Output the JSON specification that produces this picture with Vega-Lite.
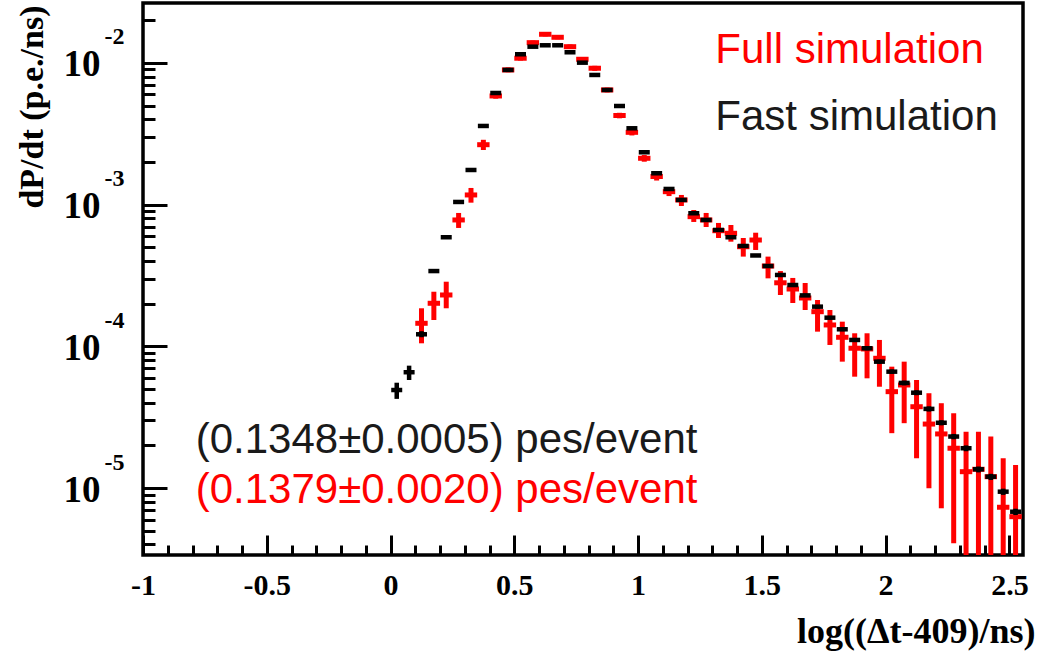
{
  "$schema": "https://vega.github.io/schema/vega-lite/v6.json",
  "width": 880,
  "height": 552,
  "autosize": {"type": "none"},
  "padding": {"left": 143, "top": 3, "right": 16, "bottom": 98},
  "background": "white",
  "config": {
    "view": {"stroke": "black", "strokeWidth": 3.5},
    "axis": {"grid": false, "domain": false, "tickColor": "black", "labelColor": "black", "titleColor": "black"}
  },
  "datasets": {
    "pts": [
      {"s":"Fast","x":0.025,"y":4.92e-5,"lo":4.26e-5,"hi":5.54e-5},
      {"s":"Fast","x":0.075,"y":6.57e-5,"lo":5.79e-5,"hi":7.31e-5},
      {"s":"Fast","x":0.125,"y":1.217e-4,"lo":1.16e-4,"hi":1.28e-4},
      {"s":"Fast","x":0.175,"y":3.40e-4,"lo":3.31e-4,"hi":3.49e-4},
      {"s":"Fast","x":0.225,"y":5.89e-4,"lo":5.77e-4,"hi":6.01e-4},
      {"s":"Fast","x":0.275,"y":1.045e-3,"lo":1.025e-3,"hi":1.065e-3},
      {"s":"Fast","x":0.325,"y":1.757e-3,"lo":1.73e-3,"hi":1.785e-3},
      {"s":"Fast","x":0.375,"y":3.593e-3,"lo":3.55e-3,"hi":3.64e-3},
      {"s":"Fast","x":0.425,"y":6.14e-3,"lo":6.08e-3,"hi":6.2e-3},
      {"s":"Fast","x":0.475,"y":8.93e-3,"lo":8.85e-3,"hi":9.01e-3},
      {"s":"Fast","x":0.525,"y":1.152e-2,"lo":1.142e-2,"hi":1.162e-2},
      {"s":"Fast","x":0.575,"y":1.303e-2,"lo":1.292e-2,"hi":1.314e-2},
      {"s":"Fast","x":0.625,"y":1.333e-2,"lo":1.322e-2,"hi":1.344e-2},
      {"s":"Fast","x":0.675,"y":1.333e-2,"lo":1.322e-2,"hi":1.344e-2},
      {"s":"Fast","x":0.725,"y":1.190e-2,"lo":1.18e-2,"hi":1.2e-2},
      {"s":"Fast","x":0.775,"y":1.005e-2,"lo":9.96e-3,"hi":1.014e-2},
      {"s":"Fast","x":0.825,"y":8.23e-3,"lo":8.16e-3,"hi":8.3e-3},
      {"s":"Fast","x":0.875,"y":6.45e-3,"lo":6.39e-3,"hi":6.51e-3},
      {"s":"Fast","x":0.925,"y":4.97e-3,"lo":4.92e-3,"hi":5.02e-3},
      {"s":"Fast","x":0.975,"y":3.46e-3,"lo":3.42e-3,"hi":3.5e-3},
      {"s":"Fast","x":1.025,"y":2.343e-3,"lo":2.31e-3,"hi":2.375e-3},
      {"s":"Fast","x":1.075,"y":1.666e-3,"lo":1.64e-3,"hi":1.69e-3},
      {"s":"Fast","x":1.125,"y":1.291e-3,"lo":1.27e-3,"hi":1.31e-3},
      {"s":"Fast","x":1.175,"y":1.080e-3,"lo":1.06e-3,"hi":1.1e-3},
      {"s":"Fast","x":1.225,"y":8.70e-4,"lo":8.55e-4,"hi":8.85e-4},
      {"s":"Fast","x":1.275,"y":7.80e-4,"lo":7.66e-4,"hi":7.94e-4},
      {"s":"Fast","x":1.325,"y":6.63e-4,"lo":6.5e-4,"hi":6.76e-4},
      {"s":"Fast","x":1.375,"y":5.89e-4,"lo":5.77e-4,"hi":6.01e-4},
      {"s":"Fast","x":1.425,"y":5.11e-4,"lo":5.0e-4,"hi":5.22e-4},
      {"s":"Fast","x":1.475,"y":4.38e-4,"lo":4.28e-4,"hi":4.48e-4},
      {"s":"Fast","x":1.525,"y":3.69e-4,"lo":3.6e-4,"hi":3.78e-4},
      {"s":"Fast","x":1.575,"y":3.19e-4,"lo":3.11e-4,"hi":3.27e-4},
      {"s":"Fast","x":1.625,"y":2.71e-4,"lo":2.64e-4,"hi":2.78e-4},
      {"s":"Fast","x":1.675,"y":2.29e-4,"lo":2.23e-4,"hi":2.35e-4},
      {"s":"Fast","x":1.725,"y":1.907e-4,"lo":1.855e-4,"hi":1.96e-4},
      {"s":"Fast","x":1.775,"y":1.594e-4,"lo":1.55e-4,"hi":1.64e-4},
      {"s":"Fast","x":1.825,"y":1.320e-4,"lo":1.28e-4,"hi":1.36e-4},
      {"s":"Fast","x":1.875,"y":1.110e-4,"lo":1.075e-4,"hi":1.145e-4},
      {"s":"Fast","x":1.925,"y":9.70e-5,"lo":9.38e-5,"hi":1.002e-4},
      {"s":"Fast","x":1.975,"y":7.80e-5,"lo":7.53e-5,"hi":8.07e-5},
      {"s":"Fast","x":2.025,"y":6.63e-5,"lo":6.39e-5,"hi":6.87e-5},
      {"s":"Fast","x":2.075,"y":5.52e-5,"lo":5.31e-5,"hi":5.73e-5},
      {"s":"Fast","x":2.125,"y":4.71e-5,"lo":4.52e-5,"hi":4.9e-5},
      {"s":"Fast","x":2.175,"y":3.62e-5,"lo":3.47e-5,"hi":3.77e-5},
      {"s":"Fast","x":2.225,"y":2.89e-5,"lo":2.77e-5,"hi":3.01e-5},
      {"s":"Fast","x":2.275,"y":2.31e-5,"lo":2.21e-5,"hi":2.41e-5},
      {"s":"Fast","x":2.325,"y":1.91e-5,"lo":1.82e-5,"hi":2.0e-5},
      {"s":"Fast","x":2.375,"y":1.357e-5,"lo":1.29e-5,"hi":1.42e-5},
      {"s":"Fast","x":2.425,"y":1.203e-5,"lo":1.14e-5,"hi":1.26e-5},
      {"s":"Fast","x":2.475,"y":9.43e-6,"lo":8.95e-6,"hi":9.9e-6},
      {"s":"Fast","x":2.525,"y":6.81e-6,"lo":6.45e-6,"hi":7.15e-6},
      {"s":"Full","x":0.125,"y":1.455e-4,"lo":1.051e-4,"hi":1.857e-4},
      {"s":"Full","x":0.175,"y":2.014e-4,"lo":1.535e-4,"hi":2.43e-4},
      {"s":"Full","x":0.225,"y":2.305e-4,"lo":1.857e-4,"hi":2.86e-4},
      {"s":"Full","x":0.275,"y":7.80e-4,"lo":6.85e-4,"hi":8.74e-4},
      {"s":"Full","x":0.325,"y":1.171e-3,"lo":1.033e-3,"hi":1.312e-3},
      {"s":"Full","x":0.375,"y":2.65e-3,"lo":2.43e-3,"hi":2.87e-3},
      {"s":"Full","x":0.425,"y":5.85e-3,"lo":5.6e-3,"hi":6.1e-3},
      {"s":"Full","x":0.475,"y":8.93e-3,"lo":8.6e-3,"hi":9.3e-3},
      {"s":"Full","x":0.525,"y":1.080e-2,"lo":1.04e-2,"hi":1.12e-2},
      {"s":"Full","x":0.575,"y":1.391e-2,"lo":1.34e-2,"hi":1.44e-2},
      {"s":"Full","x":0.625,"y":1.594e-2,"lo":1.54e-2,"hi":1.65e-2},
      {"s":"Full","x":0.675,"y":1.518e-2,"lo":1.47e-2,"hi":1.57e-2},
      {"s":"Full","x":0.725,"y":1.303e-2,"lo":1.26e-2,"hi":1.35e-2},
      {"s":"Full","x":0.775,"y":1.062e-2,"lo":1.02e-2,"hi":1.10e-2},
      {"s":"Full","x":0.825,"y":9.18e-3,"lo":8.8e-3,"hi":9.55e-3},
      {"s":"Full","x":0.875,"y":6.45e-3,"lo":6.2e-3,"hi":6.7e-3},
      {"s":"Full","x":0.925,"y":4.26e-3,"lo":4.07e-3,"hi":4.45e-3},
      {"s":"Full","x":0.975,"y":3.24e-3,"lo":3.08e-3,"hi":3.40e-3},
      {"s":"Full","x":1.025,"y":2.125e-3,"lo":2.01e-3,"hi":2.24e-3},
      {"s":"Full","x":1.075,"y":1.581e-3,"lo":1.48e-3,"hi":1.69e-3},
      {"s":"Full","x":1.125,"y":1.235e-3,"lo":1.15e-3,"hi":1.32e-3},
      {"s":"Full","x":1.175,"y":1.080e-3,"lo":9.79e-4,"hi":1.171e-3},
      {"s":"Full","x":1.225,"y":8.23e-4,"lo":7.55e-4,"hi":9.17e-4},
      {"s":"Full","x":1.275,"y":7.80e-4,"lo":6.96e-4,"hi":8.74e-4},
      {"s":"Full","x":1.325,"y":6.55e-4,"lo":5.82e-4,"hi":7.43e-4},
      {"s":"Full","x":1.375,"y":6.28e-4,"lo":5.48e-4,"hi":7.19e-4},
      {"s":"Full","x":1.425,"y":5.05e-4,"lo":4.30e-4,"hi":5.82e-4},
      {"s":"Full","x":1.475,"y":5.63e-4,"lo":4.79e-4,"hi":6.34e-4},
      {"s":"Full","x":1.525,"y":3.69e-4,"lo":3.02e-4,"hi":4.30e-4},
      {"s":"Full","x":1.575,"y":2.81e-4,"lo":2.305e-4,"hi":3.40e-4},
      {"s":"Full","x":1.625,"y":2.54e-4,"lo":2.024e-4,"hi":3.04e-4},
      {"s":"Full","x":1.675,"y":2.195e-4,"lo":1.806e-4,"hi":2.80e-4},
      {"s":"Full","x":1.725,"y":1.757e-4,"lo":1.27e-4,"hi":2.125e-4},
      {"s":"Full","x":1.775,"y":1.416e-4,"lo":1.023e-4,"hi":1.806e-4},
      {"s":"Full","x":1.825,"y":1.159e-4,"lo":7.80e-5,"hi":1.494e-4},
      {"s":"Full","x":1.875,"y":9.70e-5,"lo":6.11e-5,"hi":1.237e-4},
      {"s":"Full","x":1.925,"y":9.59e-5,"lo":5.95e-5,"hi":1.237e-4},
      {"s":"Full","x":1.975,"y":8.24e-5,"lo":5.19e-5,"hi":1.110e-4},
      {"s":"Full","x":2.025,"y":4.79e-5,"lo":2.44e-5,"hi":7.19e-5},
      {"s":"Full","x":2.075,"y":5.34e-5,"lo":2.87e-5,"hi":7.80e-5},
      {"s":"Full","x":2.125,"y":3.75e-5,"lo":1.623e-5,"hi":5.79e-5},
      {"s":"Full","x":2.175,"y":2.83e-5,"lo":9.97e-6,"hi":4.67e-5},
      {"s":"Full","x":2.225,"y":2.41e-5,"lo":7.20e-6,"hi":3.97e-5},
      {"s":"Full","x":2.275,"y":1.91e-5,"lo":4.08e-6,"hi":3.37e-5},
      {"s":"Full","x":2.325,"y":1.305e-5,"lo":1e-6,"hi":2.50e-5},
      {"s":"Full","x":2.375,"y":1.357e-5,"lo":1e-6,"hi":2.50e-5},
      {"s":"Full","x":2.425,"y":1.203e-5,"lo":1e-6,"hi":2.31e-5},
      {"s":"Full","x":2.475,"y":7.32e-6,"lo":1e-6,"hi":1.623e-5},
      {"s":"Full","x":2.525,"y":6.28e-6,"lo":1e-6,"hi":1.455e-5}
    ],
    "notes": [
      {"s":"Full","t":"Full simulation","x":1.312,"y":0.01005},
      {"s":"Fast","t":"Fast simulation","x":1.312,"y":0.00337},
      {"s":"Fast","t":"(0.1348±0.0005) pes/event","x":-0.787,"y":1.76e-5},
      {"s":"Full","t":"(0.1379±0.0020) pes/event","x":-0.787,"y":7.85e-6}
    ]
  },
  "layer": [
    {
      "data": {"name": "pts"},
      "transform": [{"filter": "datum.s == 'Full'"}],
      "mark": {"type": "rule", "color": "#ff0000", "strokeWidth": 5, "clip": true},
      "encoding": {
        "x": {"field": "x", "type": "quantitative",
              "scale": {"domain": [-1, 2.555], "zero": false, "nice": false},
              "axis": {"orient": "bottom", "values": [-0.9,-0.8,-0.7,-0.6,-0.4,-0.3,-0.2,-0.1,0.1,0.2,0.3,0.4,0.6,0.7,0.8,0.9,1.1,1.2,1.3,1.4,1.6,1.7,1.8,1.9,2.1,2.2,2.3,2.4],
                       "tickSize": -10, "tickWidth": 3, "labels": false, "title": null}},
        "y": {"field": "lo", "type": "quantitative",
              "scale": {"type": "log", "domain": [3.37e-6, 0.0265], "nice": false},
              "axis": {"orient": "left", "values": [4e-6,5e-6,6e-6,7e-6,8e-6,9e-6,2e-5,3e-5,4e-5,5e-5,6e-5,7e-5,8e-5,9e-5,2e-4,3e-4,4e-4,5e-4,6e-4,7e-4,8e-4,9e-4,2e-3,3e-3,4e-3,5e-3,6e-3,7e-3,8e-3,9e-3,2e-2],
                       "tickSize": -12, "tickWidth": 3, "labels": false, "title": null}},
        "y2": {"field": "hi"}
      }
    },
    {
      "data": {"name": "pts"},
      "transform": [{"filter": "datum.s == 'Full'"}],
      "mark": {"type": "tick", "orient": "horizontal", "color": "#ff0000", "size": 12.4, "thickness": 5, "opacity": 1, "clip": true},
      "encoding": {
        "x": {"field": "x", "type": "quantitative",
              "axis": {"orient": "bottom", "values": [-1,-0.5,0,0.5,1,1.5,2,2.5], "tickSize": -20, "tickWidth": 3, "labels": false, "title": null}},
        "y": {"field": "y", "type": "quantitative",
              "axis": {"orient": "left", "values": [1e-5,1e-4,1e-3,1e-2], "tickSize": -24, "tickWidth": 3, "labels": false, "title": null}}
      }
    },
    {
      "data": {"name": "pts"},
      "transform": [{"filter": "datum.s == 'Fast'"}],
      "mark": {"type": "rule", "color": "black", "strokeWidth": 4.5, "clip": true},
      "encoding": {
        "x": {"field": "x", "type": "quantitative",
              "axis": {"orient": "bottom", "values": [-1,-0.5,0,0.5,1,1.5,2,2.5], "ticks": false, "tickSize": 0,
                       "labelExpr": "'' + datum.value",
                       "labelFont": "Liberation Serif", "labelFontWeight": "bold", "labelFontSize": 30,
                       "labelPadding": 15, "labelFlush": false, "labelOverlap": false,
                       "title": "log((Δt-409)/ns)", "titleFont": "Liberation Serif", "titleFontWeight": "bold", "titleFontSize": 36,
                       "titleAnchor": "end", "titleAlign": "right", "titleX": 892, "titleY": 87, "titleBaseline": "alphabetic"}},
        "y": {"field": "lo", "type": "quantitative",
              "axis": {"orient": "left", "values": [1e-5,1e-4,1e-3,1e-2], "ticks": false, "tickSize": 0,
                       "labelExpr": "'10'", "labelFont": "Liberation Serif", "labelFontWeight": "bold", "labelFontSize": 37,
                       "labelPadding": 43, "labelBaseline": "middle", "labelOffset": 2,
                       "title": "dP/dt (p.e./ns)", "titleFont": "Liberation Serif", "titleFontWeight": "bold", "titleFontSize": 34,
                       "titleAngle": 270, "titleAnchor": "end", "titleAlign": "right", "titleX": -101, "titleY": 2, "titleBaseline": "alphabetic"}},
        "y2": {"field": "hi"}
      }
    },
    {
      "data": {"name": "pts"},
      "transform": [{"filter": "datum.s == 'Fast'"}],
      "mark": {"type": "tick", "orient": "horizontal", "color": "black", "size": 11, "thickness": 4.5, "opacity": 1, "clip": true},
      "encoding": {
        "x": {"field": "x", "type": "quantitative", "axis": null},
        "y": {"field": "y", "type": "quantitative",
              "axis": {"orient": "left", "values": [1e-5,1e-4,1e-3,1e-2], "ticks": false, "tickSize": 0,
                       "labelExpr": "'' + round(log(datum.value) / LN10)", "labelFont": "Liberation Serif", "labelFontWeight": "bold", "labelFontSize": 24,
                       "labelPadding": 39, "labelAlign": "left", "labelBaseline": "middle", "labelOffset": -26, "title": null}}
      }
    },
    {
      "data": {"name": "notes"},
      "mark": {"type": "text", "font": "Liberation Sans", "fontSize": 42, "align": "left", "baseline": "alphabetic"},
      "encoding": {
        "x": {"field": "x", "type": "quantitative", "axis": null},
        "y": {"field": "y", "type": "quantitative", "axis": null},
        "text": {"field": "t"},
        "color": {"field": "s", "type": "nominal", "scale": {"domain": ["Full", "Fast"], "range": ["#ff0000", "#1a1a1a"]}, "legend": null}
      }
    }
  ],
  "resolve": {"axis": {"x": "independent", "y": "independent"}}
}
